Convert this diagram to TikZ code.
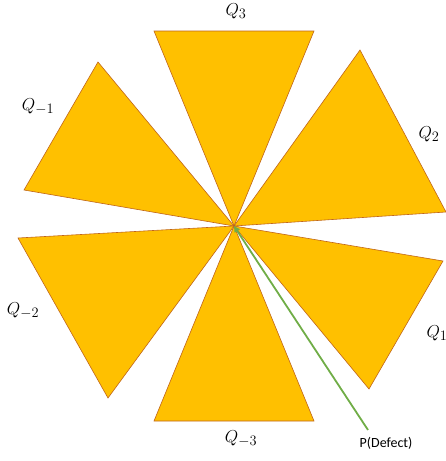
\documentclass[tikz,border=0pt]{standalone}
\usepackage{fontspec}
\newfontfamily\labelfont{Carlito}
\usetikzlibrary{arrows.meta}
\definecolor{petal}{HTML}{FFC000}
\definecolor{petaledge}{HTML}{C0651A}
\definecolor{defect}{HTML}{70AD47}
\begin{document}
\begin{tikzpicture}[x=1pt,y=-1pt,
  petalstyle/.style={fill=petal,draw=petaledge,line width=0.6pt,line join=miter},
  qlabel/.style={inner sep=0pt,font=\fontsize{19}{22}\selectfont},
  plabel/.style={inner sep=0pt,font=\labelfont\fontsize{14}{16}\selectfont}]
\useasboundingbox (0,0) rectangle (446,461);
\coordinate (c) at (234,226);
% petals
\draw[petalstyle] (c) -- (154,31) -- (314,31) -- cycle;
\draw[petalstyle] (c) -- (98,62) -- (24,190) -- cycle;
\draw[petalstyle] (c) -- (360,50) -- (446,212) -- cycle;
\draw[petalstyle] (c) -- (18,238) -- (108,398) -- cycle;
\draw[petalstyle] (c) -- (443,261) -- (369,389) -- cycle;
\draw[petalstyle] (c) -- (154,421) -- (314,421) -- cycle;
% labels
\node[qlabel] (q3) at (236,11) {$Q_3$};
\node[qlabel] (qm1) at (38,107) {$Q_{-1}$};
\node[qlabel] (q2) at (429,134) {$Q_2$};
\node[qlabel] (qm2) at (23,311) {$Q_{-2}$};
\node[qlabel] (q1) at (437,333) {$Q_1$};
\node[qlabel] (qm3) at (241,439) {$Q_{-3}$};
\node[plabel] (pd) at (386,443) {P(Defect)};
\coordinate (pend) at (368,430);
\draw[defect,line width=1.8pt,-{Triangle[length=6pt,width=6pt]}] (pend) -- (c);
\end{tikzpicture}
\end{document}
